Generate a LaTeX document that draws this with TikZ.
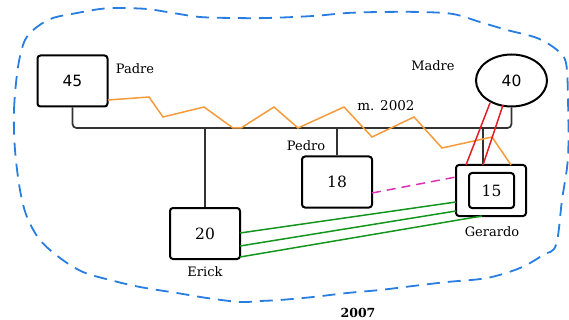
\documentclass[tikz,border=0pt]{standalone}
\usepackage{fontspec}
\setmainfont{DejaVu Serif}
\newfontfamily\numsans{DejaVu Sans}
\usetikzlibrary{shapes.geometric,calc}
\definecolor{linegray}{RGB}{50,50,50}
\definecolor{zigorange}{RGB}{245,155,60}
\definecolor{relred}{RGB}{225,30,40}
\definecolor{relmag}{RGB}{220,50,180}
\definecolor{relgreen}{RGB}{20,150,30}
\definecolor{bordblue}{RGB}{40,125,225}
\tikzset{
  person/.style={draw=black,line width=2pt,rounded corners=3pt,minimum width=70pt,minimum height=51pt,inner sep=0pt,font=\fontsize{15.5}{18}\selectfont},
  femme/.style={draw=black,line width=2pt,ellipse,minimum width=71pt,minimum height=52pt,inner sep=0pt,font=\numsans\fontsize{15.5}{18}\selectfont},
  innerbox/.style={draw=black,line width=2pt,rounded corners=3pt,minimum width=45pt,minimum height=35pt,inner sep=0pt,font=\fontsize{15.5}{18}\selectfont},
  lbl/.style={inner sep=0pt,font=\fontsize{13}{15}\selectfont},
  famline/.style={draw=linegray,line width=1.7pt},
  rel/.style={line width=1.5pt},
}
\begin{document}
\begin{tikzpicture}[x=1pt,y=-1pt]
\useasboundingbox (0,0) rectangle (569,320);
% boundary
\draw[bordblue,line width=1.8pt,dash pattern=on 13pt off 8pt] plot[smooth cycle,tension=0.55] coordinates {
 (15,150) (14,110) (18,67) (25,40) (37,27) (53,18) (77,13) (100,9) (117,8) (147,9) (173,13) (200,17) (233,18) (267,18)
 (313,16) (347,13) (380,12) (420,12) (453,14) (480,22) (507,30) (537,38) (557,50) (566,63) (568,100) (568,157) (562,200) (556,245)
 (543,255) (520,268) (487,278) (447,282) (413,286) (380,290) (347,293) (313,297) (280,300) (260,301) (240,302) (207,298) (177,293)
 (140,287) (110,280) (83,272) (60,258) (40,240) (27,217) (20,190)};
% persons
\node[person,font=\numsans\fontsize{15.5}{18}\selectfont] (p45) at (72.5,81) {45};
\node[femme] (m40) at (511.5,80.5) {40};
\node[person] (c20) at (205,233.5) {20};
\node[person] (c18) at (337,182) {18};
\node[person] (g15) at (491,190.5) {};
\node[innerbox] (g15in) at (491.5,190.5) {15};
% labels
\node[lbl] (lpadre) at (135,69) {Padre};
\node[lbl] (lmadre) at (433,66) {Madre};
\node[lbl] (lpedro) at (306,146) {Pedro};
\node[lbl] (lerick) at (205,272) {Erick};
\node[lbl] (lgerardo) at (492,232) {Gerardo};
\node[lbl,font=\fontsize{13.5}{16}\selectfont] (lmar) at (386,106) {m. 2002};
\node[lbl,font=\bfseries\fontsize{12.5}{15}\selectfont] (lyear) at (358,313) {2007};
% family lines
\coordinate (bar) at (0,128);
\coordinate (gdrop) at (483,165);
\draw[famline,rounded corners=4pt] (p45.south) -- (p45.south |- bar) -- (m40.south |- bar) -- (m40.south);
\draw[famline] (c20.north) -- (c20.north |- bar);
\draw[famline] (c18.north) -- (c18.north |- bar);
\draw[famline] (gdrop) -- (gdrop |- bar);
% zigzag
\coordinate (zs) at (108,100);
\coordinate (ze) at (511,165);
\draw[zigorange,rel] (zs) -- (149,97) -- (163,117) -- (204,107) -- (233,128) -- (241,128) -- (274,107) -- (298,128) -- (344,107) -- (372,137) -- (414,117) -- (442,148) -- (492,137) -- (ze);
% red
\coordinate (r1a) at (490,103); \coordinate (r1b) at (466,165);
\coordinate (r2a) at (503,105); \coordinate (r2b) at (483,165);
\draw[relred,rel] (r1a) -- (r1b);
\draw[relred,rel] (r2a) -- (r2b);
% magenta
\coordinate (ma) at (372,193); \coordinate (mb) at (456,177);
\draw[relmag,rel,dash pattern=on 9pt off 6pt] (ma) -- (mb);
% green
\coordinate (ga1) at (240,233); \coordinate (gb1) at (456,202);
\coordinate (ga2) at (240,246); \coordinate (gb2) at (456,211);
\coordinate (ga3) at (240,257); \coordinate (gb3) at (482,216);
\draw[relgreen,rel] (ga1) -- (gb1);
\draw[relgreen,rel] (ga2) -- (gb2);
\draw[relgreen,rel] (ga3) -- (gb3);
\end{tikzpicture}
\end{document}
